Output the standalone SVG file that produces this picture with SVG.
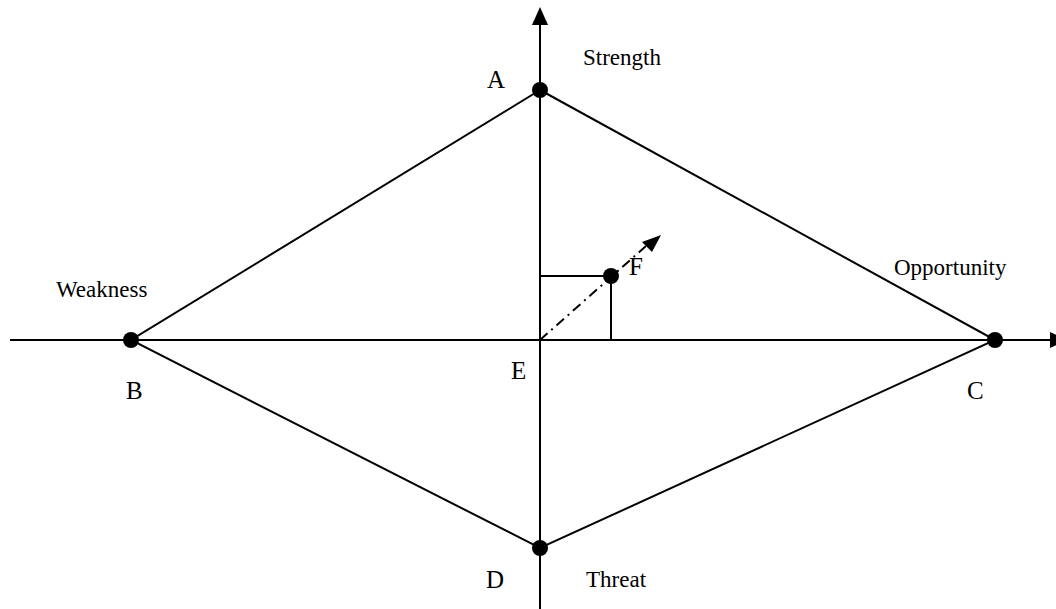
<svg xmlns="http://www.w3.org/2000/svg" width="1056" height="609" viewBox="0 0 1056 609">
<style>
.ln{stroke:#000;stroke-width:2;fill:none}
.pt{fill:#000}
.lbl{font-family:"Liberation Serif","Times New Roman",serif;font-size:25px;fill:#000}
.txt{font-family:"Liberation Serif","Times New Roman",serif;font-size:23px;fill:#000}
</style>
<rect width="1056" height="609" fill="#fff"/>
<g id="connectors">
<line class="ln" x1="540" y1="609" x2="540" y2="24"/>
<polygon points="540,7 532,25 548,25" fill="#000"/>
<line class="ln" x1="10" y1="340" x2="1052" y2="340"/>
<polygon points="1068,340 1050,332 1050,348" fill="#000"/>
<polyline class="ln" points="540,90 131,340 540,548 995,340 540,90"/>
<polyline class="ln" points="540,276 611,276 611,340"/>
<line class="ln" x1="540" y1="340" x2="646" y2="246" stroke-dasharray="10,5,2,5"/>
<polygon points="661,235 642,242 652,252" fill="#000"/>
</g>
<g id="A"><circle class="pt" cx="540" cy="90" r="8"/><text class="lbl" x="487" y="88">A</text></g>
<g id="B"><circle class="pt" cx="131" cy="340" r="8"/><text class="lbl" x="126" y="399">B</text></g>
<g id="C"><circle class="pt" cx="995" cy="340" r="8"/><text class="lbl" x="967" y="399">C</text></g>
<g id="D"><circle class="pt" cx="540" cy="548" r="8"/><text class="lbl" x="486" y="588">D</text></g>
<g id="E"><text class="lbl" x="511" y="379">E</text></g>
<g id="F"><circle class="pt" cx="611" cy="276" r="8"/><text class="lbl" x="629" y="275">F</text></g>
<text class="txt" x="583" y="65">Strength</text>
<text class="txt" x="56" y="297">Weakness</text>
<text class="txt" x="894" y="275">Opportunity</text>
<text class="txt" x="586" y="587">Threat</text>
</svg>
